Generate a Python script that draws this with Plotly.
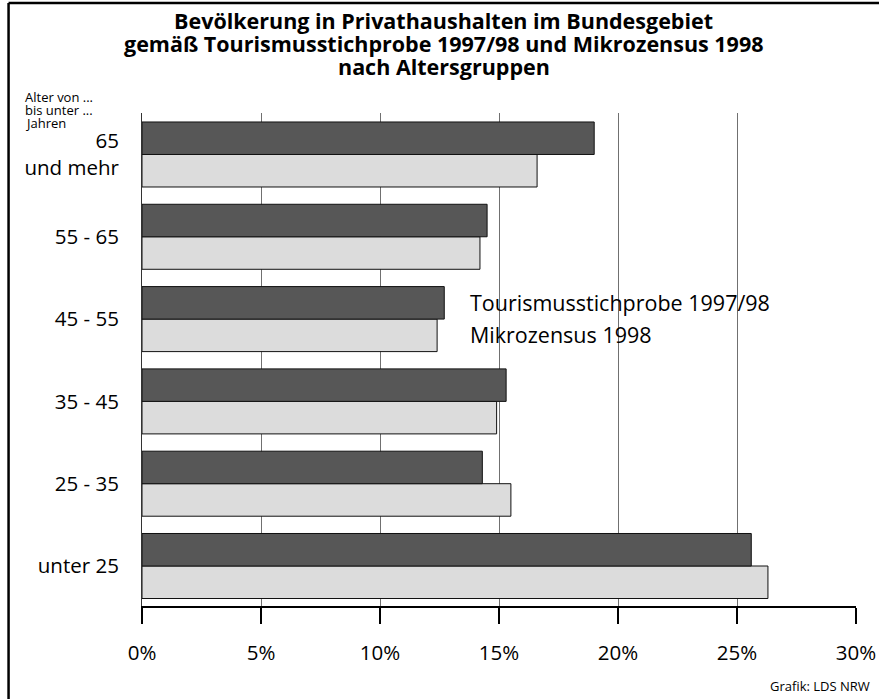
import plotly.graph_objects as go

categories = ["unter 25", "25 - 35", "35 - 45", "45 - 55", "55 - 65", "65<br>und mehr"]
tourismus = [25.6, 14.3, 15.3, 12.7, 14.5, 19.0]
mikrozensus = [26.3, 15.5, 14.9, 12.4, 14.2, 16.6]
name_t = "Tourismusstichprobe 1997/98"
name_m = "Mikrozensus 1998"
x_ticks = [0, 5, 10, 15, 20, 25, 30]
x_ticklabels = ["0%", "5%", "10%", "15%", "20%", "25%", "30%"]
title_lines = ["Bevölkerung in Privathaushalten im Bundesgebiet",
               "gemäß Tourismusstichprobe 1997/98 und Mikrozensus 1998",
               "nach Altersgruppen"]
caption_lines = ["Alter von ...", "bis unter ...", "Jahren"]

FONT = "Open Sans"
W, H = 888, 699
L, R, T, B = 142, 29, 113, 93
PW, PH = W - L - R, H - T - B


def px(x):
    return (x - L) / PW


def py(y):
    return (H - B - y) / PH


fig = go.Figure()
fig.add_trace(go.Bar(y=categories, x=mikrozensus, orientation="h", name=name_m,
                     marker=dict(color="#dcdcdc", line=dict(color="#111111", width=1))))
fig.add_trace(go.Bar(y=categories, x=tourismus, orientation="h", name=name_t,
                     marker=dict(color="#575757", line=dict(color="#111111", width=1))))

fig.update_layout(
    width=W, height=H, autosize=False,
    margin=dict(l=L, r=R, t=T, b=B),
    paper_bgcolor="white", plot_bgcolor="white",
    barmode="group", bargap=0.21, bargroupgap=0,
    showlegend=False,
    font=dict(family=FONT, color="black", size=20),
    xaxis=dict(
        range=[0, 30], tickvals=x_ticks, ticktext=x_ticklabels,
        showgrid=True, gridcolor="#707070", gridwidth=1,
        showline=True, linecolor="black", linewidth=2,
        ticks="outside", ticklen=16, tickwidth=2, tickcolor="black",
        ticklabelstandoff=11, tickfont=dict(size=20.5),
        zeroline=False, fixedrange=True,
    ),
    yaxis=dict(
        range=[-0.486, 5.504], showgrid=False,
        showline=True, linecolor="#333333", linewidth=1,
        ticks="", ticklabelstandoff=18, tickfont=dict(size=20.5),
        fixedrange=True,
    ),
)

# outer frame (only top and left edges are visible)
fig.add_shape(type="line", xref="paper", yref="paper",
              x0=px(8), x1=px(W + 5), y0=py(3), y1=py(3),
              line=dict(color="black", width=2.5), layer="above")
fig.add_shape(type="line", xref="paper", yref="paper",
              x0=px(8), x1=px(8), y0=py(3), y1=py(H + 5),
              line=dict(color="black", width=2.5), layer="above")

# title lines
for i, line in enumerate(title_lines):
    fig.add_annotation(x=px(445), y=py(20 + 23.5 * i), xref="paper", yref="paper",
                       text="<b>" + line + "</b>", showarrow=False,
                       xanchor="center", yanchor="middle",
                       font=dict(size=21.5))

# legend text labels
fig.add_annotation(x=px(469), y=py(302), xref="paper", yref="paper",
                   text=name_t, showarrow=False, xanchor="left", yanchor="middle",
                   font=dict(size=21.5))
fig.add_annotation(x=px(469), y=py(334), xref="paper", yref="paper",
                   text=name_m, showarrow=False, xanchor="left", yanchor="middle",
                   font=dict(size=21.5))

# axis caption
for i, line in enumerate(caption_lines):
    fig.add_annotation(x=px(23), y=py(97 + 13 * i), xref="paper", yref="paper",
                       text=line, showarrow=False,
                       xanchor="left", yanchor="middle", align="left",
                       font=dict(size=13))

# source
fig.add_annotation(x=px(875), y=py(686), xref="paper", yref="paper",
                   text="Grafik: LDS NRW", showarrow=False, xanchor="right", yanchor="middle",
                   font=dict(size=13))

fig.write_html("out.html",
               config={"responsive": False, "displayModeBar": False},
               post_script="document.body.style.margin='0';document.body.style.overflow='hidden';")
